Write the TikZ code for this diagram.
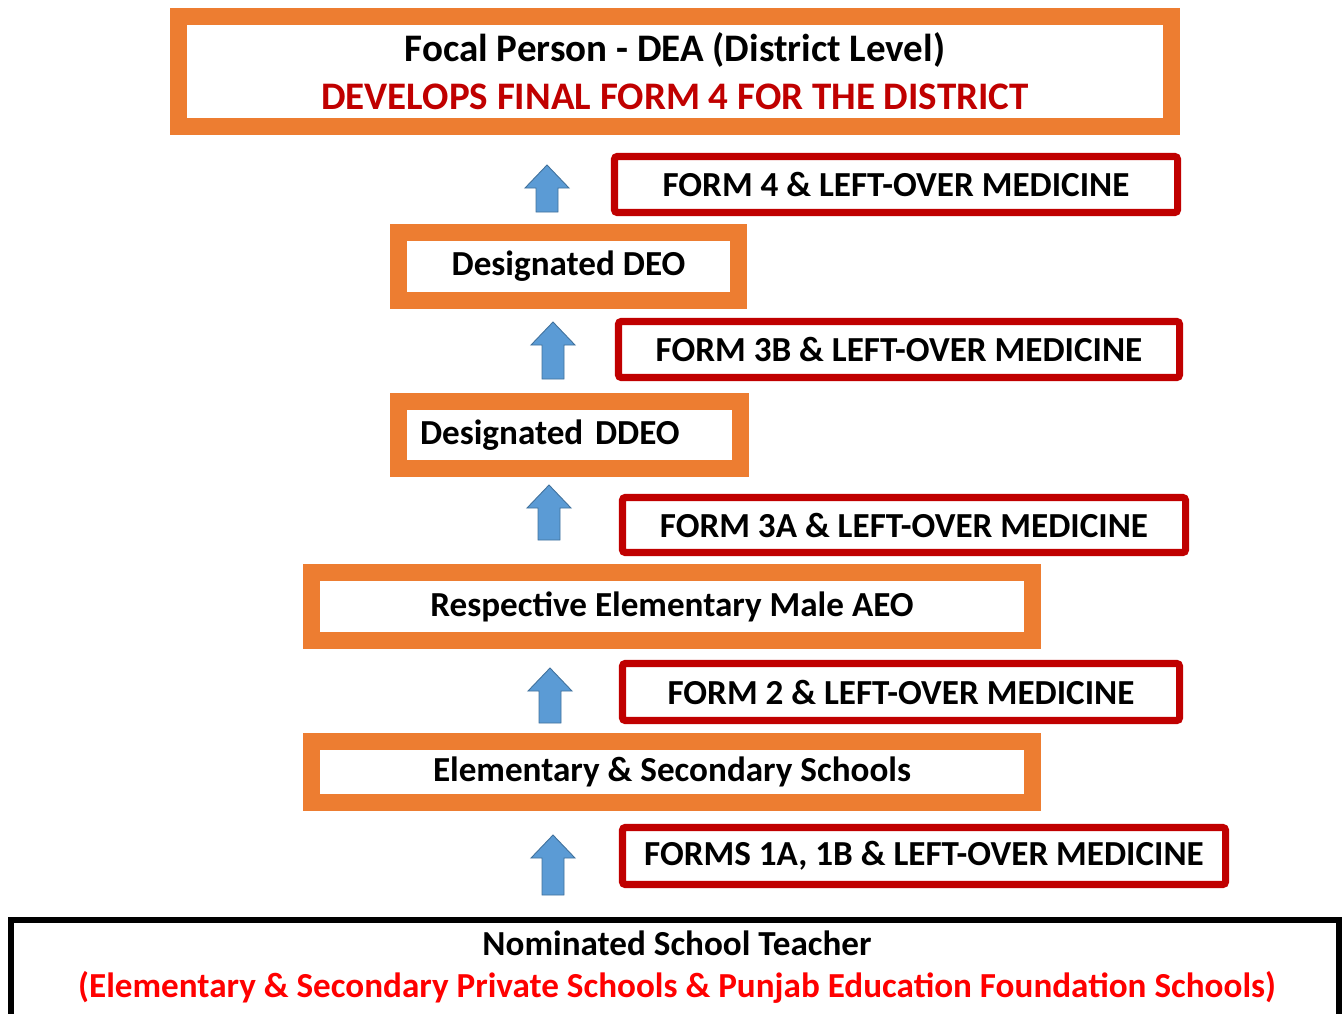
\documentclass[tikz,border=0pt]{standalone}
\usepackage{fontspec}
\setmainfont{Carlito}
\usepackage{xcolor}
\definecolor{boxorange}{HTML}{ED7D31}
\definecolor{boxred}{HTML}{C00000}
\definecolor{textred}{HTML}{FF0000}
\definecolor{arrowblue}{HTML}{5B9BD5}
\definecolor{arrowedge}{HTML}{41719C}
\usetikzlibrary{positioning}
\newdimen\pxu
\pxu=0.02cm

\begin{document}
\begin{tikzpicture}[x=\pxu, y=-\pxu,
		levelbox/.style={draw=boxorange, line width=9.7pt, fill=white, inner sep=0pt,
			font=\fontsize{20}{24}\selectfont\bfseries},
		formbox/.style={draw=boxred, line width=4pt, rounded corners=1.5pt, fill=white, inner sep=0pt,
			font=\fontsize{20}{24}\selectfont\bfseries},
		teacherbox/.style={draw=black, line width=3.4pt, fill=white, inner sep=0pt},
		pics/uparrow/.style={code={
			\draw[fill=arrowblue, draw=arrowedge, line width=0.5pt, line join=miter]
				(0,0) -- (22,23) -- (11,23) -- (11,#1) -- (-11,#1) -- (-11,23) -- (-22,23) -- cycle;}}]
		%\draw [thin, help lines] (0,0) grid (1342,1014);
		\useasboundingbox (0,0) rectangle (1342,1014);
		\clip (0,0) rectangle (1342,1014);
		% levels
		\node[levelbox, minimum width=993\pxu, minimum height=110\pxu, align=center,
			font=\fontsize{22.2}{27.3}\selectfont\bfseries] (dea) at (675,71.5)
			{Focal Person - DEA (District Level)\\ \textcolor{boxred}{DEVELOPS FINAL FORM 4 FOR THE DISTRICT}};
		\node[levelbox, minimum width=340\pxu, minimum height=68\pxu] (deo) at (568.5,266.5) {Designated DEO};
		\node[levelbox, minimum width=342\pxu, minimum height=67\pxu, text width=299\pxu, align=left] (ddeo) at (569.5,435) {Designated DDEO};
		\node[levelbox, minimum width=721\pxu, minimum height=68\pxu] (aeo) at (672,606.5) {Respective Elementary Male AEO};
		\node[levelbox, minimum width=721\pxu, minimum height=61\pxu] (schools) at (672,772) {Elementary \& Secondary Schools};
		\node[teacherbox, minimum width=1328\pxu, minimum height=150\pxu, anchor=north] (teacher) at (675,917) {};
		\node[align=center, font=\fontsize{20}{24}\selectfont\bfseries] (teachertext) at (677,967)
			{Nominated School Teacher\\ \textcolor{textred}{(Elementary \& Secondary Private Schools \& Punjab Education Foundation Schools)}};
		% forms
		\node[formbox, minimum width=563\pxu, minimum height=56\pxu] (form4) at (896,184.5) {FORM 4 \& LEFT-OVER MEDICINE};
		\node[formbox, minimum width=561\pxu, minimum height=56\pxu] (form3b) at (899,349.5) {FORM 3B \& LEFT-OVER MEDICINE};
		\node[formbox, minimum width=563\pxu, minimum height=55\pxu] (form3a) at (904,525) {FORM 3A \& LEFT-OVER MEDICINE};
		\node[formbox, minimum width=557\pxu, minimum height=57\pxu] (form2) at (901,692) {FORM 2 \& LEFT-OVER MEDICINE};
		\node[formbox, minimum width=603\pxu, minimum height=57\pxu] (form1) at (924,856) {FORMS 1A, 1B \& LEFT-OVER MEDICINE};
		% arrows
		\pic at (547,165) {uparrow=47};
		\pic at (553,322) {uparrow=57};
		\pic at (549,485) {uparrow=55};
		\pic at (550,668) {uparrow=55};
		\pic at (553,835) {uparrow=60};
	\end{tikzpicture}
\end{document}
